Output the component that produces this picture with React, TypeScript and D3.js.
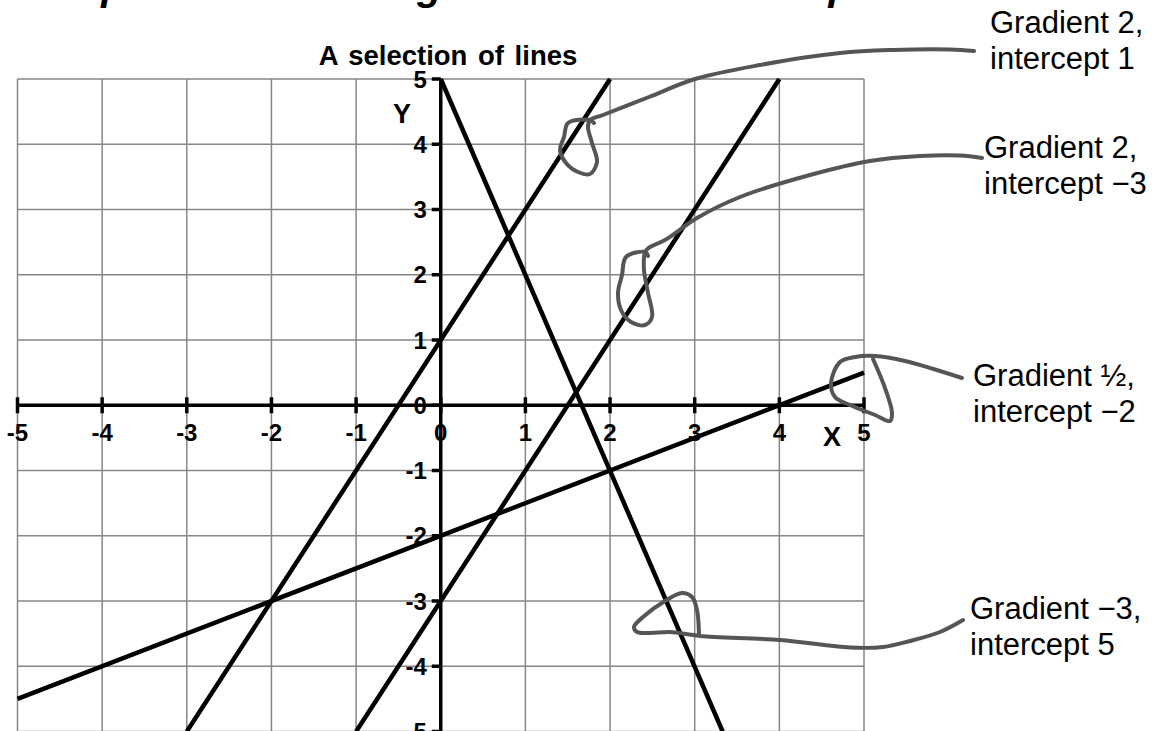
import React from 'react';
import * as d3 from 'd3';

const xTicks = [-5, -4, -3, -2, -1, 0, 1, 2, 3, 4, 5];
const yTicks = [-5, -4, -3, -2, -1, 0, 1, 2, 3, 4, 5];

// end points, one list per line
const lineA = [[-3, -5], [2, 5]];
const lineB = [[-1, -5], [4, 5]];
const lineC = [[-5, -4.5], [5, 0.5]];
const lineD = [[0, 5], [3.33, -5]];
const lines = [lineA, lineB, lineC, lineD];

const labels = [
    { x: 990, y: 33, rows: ['Gradient 2,', 'intercept 1'] },
    { x: 984, y: 158, rows: ['Gradient 2,', 'intercept \u22123'] },
    { x: 973, y: 386, rows: ['Gradient \u00bd,', 'intercept \u22122'] },
    { x: 970, y: 619, rows: ['Gradient \u22123,', 'intercept 5'] },
];

// the hand drawn pointers, in page pixels
const pointerA = [[974, 51], [950, 49.5], [893, 50], [840, 53], [760, 65], [695, 79], [649, 97], [603, 115], [590, 120], [588, 127], [592, 143], [597, 162], [590, 174], [578, 172], [566, 163], [560, 150], [564, 137], [568, 123], [590, 120], [594, 123]];
const pointerB = [[982, 158], [960, 155.5], [920, 156], [870, 161], [810, 175], [740, 197], [697, 218], [665, 240], [650, 247], [645, 252], [644, 270], [648, 293], [652, 317], [645, 325], [631, 322], [621, 310], [618, 293], [622, 275], [626, 257], [645, 252], [648, 256]];
const pointerC = [[962, 378], [905, 361], [875, 356], [855, 357], [840, 362], [831, 383], [835, 397], [850, 405], [875, 415], [890, 421], [892, 413], [885, 388], [873, 359]];
const pointerD = [[963, 620], [940, 632], [910, 641], [883, 647], [850, 647.5], [780, 640], [700, 636], [670, 632], [650, 633], [637, 632], [634, 627], [643, 617], [665, 601], [682, 593], [692, 597], [697, 610], [699, 635]];
const pointers = [pointerA, pointerB, pointerC, pointerD];

const App = () => {
    const xScale = d3.scaleLinear().domain([-5, 5]).range([17.5, 864]);
    const yScale = d3.scaleLinear().domain([-5, 5]).range([731.5, 79]);

    const linePath = d3.line<number[]>()
        .x(d => xScale(d[0]))
        .y(d => yScale(d[1]));

    const pointerPath = d3.line<number[]>()
        .x(d => d[0])
        .y(d => d[1])
        .curve(d3.curveCatmullRom.alpha(0.5));

    const font = '"Liberation Sans", Arial, sans-serif';

    return (
        <svg width={1159} height={731} style={{ position: 'fixed', left: 0, top: 0, background: '#fff' }} fontFamily={font}>
            <text x={441} y={-0.5} textAnchor="middle" fontSize={40.7} fontWeight="bold" fontStyle="italic" fill="#000">
                Examples of different gradients and intercepts
            </text>
            <text x={448} y={65} textAnchor="middle" fontSize={27.5} fontWeight="bold" wordSpacing={3} fill="#000">A selection of lines</text>

            {/* grid */}
            <g stroke="#868686" strokeWidth={1.5}>
                {xTicks.map(t => <line key={t} x1={xScale(t)} x2={xScale(t)} y1={yScale(5)} y2={yScale(-5)} />)}
                {yTicks.map(t => <line key={t} x1={xScale(-5)} x2={xScale(5)} y1={yScale(t)} y2={yScale(t)} />)}
            </g>

            {/* axes through the origin */}
            <g stroke="#000" strokeWidth={3.5}>
                <line x1={xScale(-5)} x2={xScale(5)} y1={yScale(0)} y2={yScale(0)} />
                <line x1={xScale(0)} x2={xScale(0)} y1={yScale(5)} y2={yScale(-5)} />
                {xTicks.map(t => <line key={t} x1={xScale(t)} x2={xScale(t)} y1={yScale(0) - 8} y2={yScale(0) + 8} />)}
                {yTicks.map(t => <line key={t} x1={xScale(0) - 9} x2={xScale(0)} y1={yScale(t)} y2={yScale(t)} />)}
            </g>

            {lines.map((d, i) => (
                <path key={i} d={linePath(d) ?? ''} fill="none" stroke="#000" strokeWidth={4.5} />
            ))}

            <g fontSize={24} fontWeight="bold" fill="#000">
                {xTicks.map(t => (
                    <text key={t} x={xScale(t)} y={yScale(0) + 36} textAnchor="middle">{t}</text>
                ))}
                {yTicks.map(t => (
                    <text key={t} x={xScale(0) - 14} y={yScale(t) + 8.5} textAnchor="end">{t}</text>
                ))}
                <text x={402} y={123} textAnchor="middle" fontSize={27}>Y</text>
                <text x={832} y={446} textAnchor="middle" fontSize={27}>X</text>
            </g>

            {pointers.map((d, i) => (
                <path key={i} d={pointerPath(d) ?? ''} fill="none" stroke="#555" strokeWidth={4} strokeLinecap="round" strokeLinejoin="round" />
            ))}

            <g fontSize={31} fill="#000">
                {labels.map((l, i) => (
                    <text key={i}>
                        {l.rows.map((r, j) => <tspan key={j} x={l.x} y={l.y + j * 35.5}>{r}</tspan>)}
                    </text>
                ))}
            </g>
        </svg>
    );
};

export default App;
